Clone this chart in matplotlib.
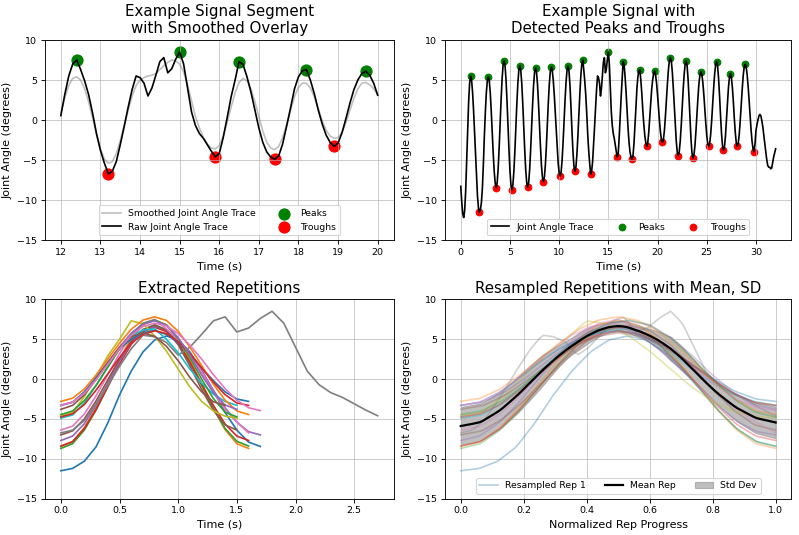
import numpy as np
import matplotlib
matplotlib.use("Agg")
import matplotlib.pyplot as plt

# ---------------- data ----------------
DT = 0.1  # sampling step of the joint-angle trace (s)

joint_angle = [
    -8.3, -10.2, -11.7, -12.2, -11.3, -8.9, -5.3, -1.4, 2.2, 4.6,          # 0.0-0.9
    5.5, 5.0, 3.5, 1.25, -1.5, -4.5, -7.25, -9.5, -11.0, -11.5,            # 1.0-1.9
    -11.2, -10.3, -8.5, -5.5, -2.0, 1.0, 3.4, 4.9, 5.4, 4.9,               # 2.0-2.9
    3.4, 1.1, -1.5, -4.2, -6.4, -7.9, -8.45, -7.85, -6.1, -3.55,           # 3.0-3.9
    -0.5, 2.5, 5.1, 6.8, 7.4, 6.8, 5.05, 2.4, -0.65, -3.7,                 # 4.0-4.9
    -6.35, -8.1, -8.7, -8.1, -6.4, -3.9, -0.95, 2.0, 4.5, 6.2,             # 5.0-5.9
    6.8, 6.2, 4.6, 2.1, -0.8, -3.7, -6.2, -7.8, -8.4, -7.85,               # 6.0-6.9
    -6.2, -3.8, -0.95, 1.9, 4.35, 5.95, 6.5, 5.95, 4.45, 2.1,              # 7.0-7.9
    -0.6, -3.3, -5.65, -7.15, -7.7, -7.15, -5.6, -3.3, -0.55, 2.2,         # 8.0-8.9
    4.5, 6.05, 6.6, 6.2, 5.0, 3.2, 1.0, -1.4, -3.6, -5.4,                  # 9.0-9.9
    -6.6, -7.0, -6.5, -5.0, -2.75, -0.1, 2.5, 4.75, 6.2, 6.75,             # 10.0-10.9
    6.1, 4.3, 1.65, -1.3, -3.9, -5.75, -6.4, -5.9, -4.4, -2.1,             # 11.0-11.9
    0.55, 3.2, 5.5, 7.0, 7.5, 6.3, 4.9, 3.2, 0.9, -1.7,                    # 12.0-12.9
    -3.8, -5.4, -6.75, -6.4, -5.2, -3.1, -0.8, 1.6, 3.8, 5.5,              # 13.0-13.9
    5.3, 4.6, 3.0, 4.0, 5.6, 7.3, 7.8, 5.9, 6.4, 7.6,                      # 14.0-14.9
    8.5, 7.0, 4.0, 1.0, -0.7, -1.7, -2.3, -3.1, -3.9, -4.6,                # 15.0-15.9
    -4.2, -2.2, 0.3, 2.9, 5.0, 7.3, 6.95, 5.4, 3.5, 1.25,                  # 16.0-16.9
    -1.0, -2.8, -4.0, -4.65, -4.9, -4.5, -3.0, -0.8, 1.5, 3.9,             # 17.0-17.9
    5.4, 6.15, 6.3, 5.0, 3.3, 1.25, -0.5, -1.9, -2.8, -3.3,                # 18.0-18.9
    -2.9, -1.6, 0.2, 2.1, 3.8, 5.0, 5.8, 6.1, 5.6, 4.6,                    # 19.0-19.9
    3.1, 1.4, -0.2, -1.6, -2.5, -2.8, -2.4, -1.25, 0.5, 2.5,               # 20.0-20.9
    4.5, 6.25, 7.4, 7.8, 7.35, 6.0, 4.0, 1.7, -0.65, -2.65,                # 21.0-21.9
    -4.0, -4.45, -4.0, -2.7, -0.8, 1.5, 3.75, 5.65, 6.95, 7.4,             # 22.0-22.9
    6.8, 5.1, 2.7, 0.0, -2.45, -4.15, -4.75, -4.35, -3.2, -1.4,            # 23.0-23.9
    0.65, 2.7, 4.5, 5.6, 6.05, 5.7, 4.7, 3.2, 1.4, -0.4,                   # 24.0-24.9
    -1.95, -3.0, -3.3, -2.9, -1.75, -0.05, 2.0, 4.0, 5.75, 6.9,            # 25.0-25.9
    7.3, 6.75, 5.2, 3.0, 0.5, -1.7, -3.25, -3.8, -3.3, -2.0,               # 26.0-26.9
    -0.05, 2.05, 4.0, 5.3, 5.8, 5.35, 4.1, 2.3, 0.2, -1.6,                 # 27.0-27.9
    -2.85, -3.3, -2.9, -1.8, -0.1, 1.85, 3.8, 5.5, 6.6, 7.0,               # 28.0-28.9
    6.65, 5.7, 4.25, 2.5, 0.55, -1.2, -2.65, -3.6, -3.95, -3.0,            # 29.0-29.9
    -1.3, -0.6, 0.0, 0.5, 0.7, 0.5, -0.1, -0.9, -2.0, -3.0,                # 30.0-30.9
    -4.0, -5.0, -5.7, -5.9, -5.9, -6.1, -6.0, -5.3, -4.6, -4.1,            # 31.0-31.9
    -3.6,                                                                  # 32.0
]

peak_times = [1.0, 2.8, 4.4, 6.0, 7.6, 9.2, 10.9, 12.4, 15.0, 16.5,
              18.2, 19.7, 21.3, 22.9, 24.4, 26.0, 27.4, 28.9]
trough_times = [1.9, 3.6, 5.2, 6.8, 8.4, 10.1, 11.6, 13.2, 15.9, 17.4,
                18.9, 20.5, 22.1, 23.6, 25.2, 26.7, 28.1, 29.8]

segment_start, segment_end = 12.0, 20.0
smoothed_angle = [
    0.9, 2.8, 4.3, 5.2, 5.4, 5.0, 3.9, 2.3, 0.3, -1.8,        # 12.0-12.9
    -3.6, -4.9, -5.4, -5.2, -4.2, -2.6, -0.7, 1.2, 3.0, 4.3,  # 13.0-13.9
    5.0, 5.3, 5.5, 5.6, 5.8, 6.3, 6.8, 7.2, 7.5, 7.4,         # 14.0-14.9
    7.0, 6.0, 4.4, 2.4, 0.4, -1.0, -2.2, -3.0, -3.5, -3.6,    # 15.0-15.9
    -3.2, -2.0, -0.3, 1.6, 3.4, 4.7, 5.2, 4.9, 3.9, 2.3,      # 16.0-16.9
    0.4, -1.4, -2.8, -3.5, -3.7, -3.3, -2.2, -0.6, 1.2, 2.9,  # 17.0-17.9
    4.1, 4.6, 4.6, 4.0, 2.9, 1.4, -0.1, -1.3, -2.0, -2.3,     # 18.0-18.9
    -2.2, -1.5, -0.3, 1.2, 2.7, 3.9, 4.6, 4.7, 4.4, 3.9,      # 19.0-19.9
    3.2,                                                      # 20.0
]

# ---------------- derived arrays ----------------
signal = np.array(joint_angle)
time = np.arange(len(signal)) * DT
peak_idx = np.rint(np.array(peak_times) / DT).astype(int)
trough_idx = np.rint(np.array(trough_times) / DT).astype(int)
smooth = np.array(smoothed_angle)
smooth_t = segment_start + np.arange(len(smooth)) * DT

plt.rcParams['font.family'] = ['DejaVu Sans']
plt.rcParams['font.size'] = 10
plt.rcParams['xtick.labelsize'] = 8.5
plt.rcParams['ytick.labelsize'] = 8.5

W, H = 799, 535
fig = plt.figure(figsize=(W / 80, H / 80), dpi=80)


def axes_px(l, r, t, b):
    return fig.add_axes([l / W, 1 - b / H, (r - l) / W, (b - t) / H])


ax1 = axes_px(45, 393.5, 40, 240)
ax2 = axes_px(445, 791.4, 40, 240)
ax3 = axes_px(45, 393.5, 299.3, 498.7)
ax4 = axes_px(445, 791.4, 299.3, 498.7)

TITLE_FS = 13.5
LEG_FS = 8.3

# Panel 1
m = (time >= segment_start - 1e-9) & (time <= segment_end + 1e-9)
ax1.plot(smooth_t, smooth, color='gray', alpha=0.5, lw=1.5, label='Smoothed Joint Angle Trace')
ax1.plot(time[m], signal[m], color='black', lw=1.5, label='Raw Joint Angle Trace')
pk = peak_idx[(time[peak_idx] >= segment_start) & (time[peak_idx] <= segment_end)]
tr = trough_idx[(time[trough_idx] >= segment_start) & (time[trough_idx] <= segment_end)]
ax1.scatter(time[pk], signal[pk], color='green', s=100, label='Peaks')
ax1.scatter(time[tr], signal[tr], color='red', s=100, label='Troughs')
ax1.set_title('Example Signal Segment\nwith Smoothed Overlay', fontsize=TITLE_FS)
ax1.legend(loc='lower center', ncol=2, fontsize=LEG_FS)

# Panel 2
ax2.plot(time, signal, color='black', lw=1.5, label='Joint Angle Trace')
ax2.scatter(time[peak_idx], signal[peak_idx], color='green', label='Peaks')
ax2.scatter(time[trough_idx], signal[trough_idx], color='red', label='Troughs')
ax2.set_title('Example Signal with\nDetected Peaks and Troughs', fontsize=TITLE_FS)
ax2.legend(loc='lower center', ncol=3, fontsize=LEG_FS)

# Panel 3 & 4
progress = np.linspace(0, 1, 100)
resampled = []
handles = []
for i in range(len(trough_idx) - 1):
    a, b = trough_idx[i], trough_idx[i + 1]
    seg = signal[a:b + 1]
    tt = time[a:b + 1] - time[a]
    ax3.plot(tt, seg, lw=1.5)
    r = np.interp(progress, tt / tt[-1], seg)
    resampled.append(r)
    h, = ax4.plot(progress, r, color=f'C{i % 10}', alpha=0.35, lw=1.5,
                  label='Resampled Rep 1' if i == 0 else None)
    if i == 0:
        handles.append(h)
resampled = np.array(resampled)
mean = resampled.mean(axis=0)
sd = resampled.std(axis=0)
band = ax4.fill_between(progress, mean - sd, mean + sd, color='gray', alpha=0.5, label='Std Dev')
hm, = ax4.plot(progress, mean, color='black', lw=2, label='Mean Rep')
handles += [hm, band]
ax3.set_title('Extracted Repetitions', fontsize=TITLE_FS)
ax4.set_title('Resampled Repetitions with Mean, SD', fontsize=TITLE_FS)
ax4.legend(handles=handles, loc='lower center', ncol=3, fontsize=LEG_FS)

for ax in (ax1, ax2, ax3, ax4):
    ax.set_ylim(-15, 10)
    ax.set_ylabel('Joint Angle (degrees)')
    ax.grid(True, color='#b0b0b0', alpha=0.7, lw=0.8)
ax1.set_xlabel('Time (s)')
ax2.set_xlabel('Time (s)')
ax3.set_xlabel('Time (s)')
ax4.set_xlabel('Normalized Rep Progress')

fig.savefig('out.png', dpi=80)
